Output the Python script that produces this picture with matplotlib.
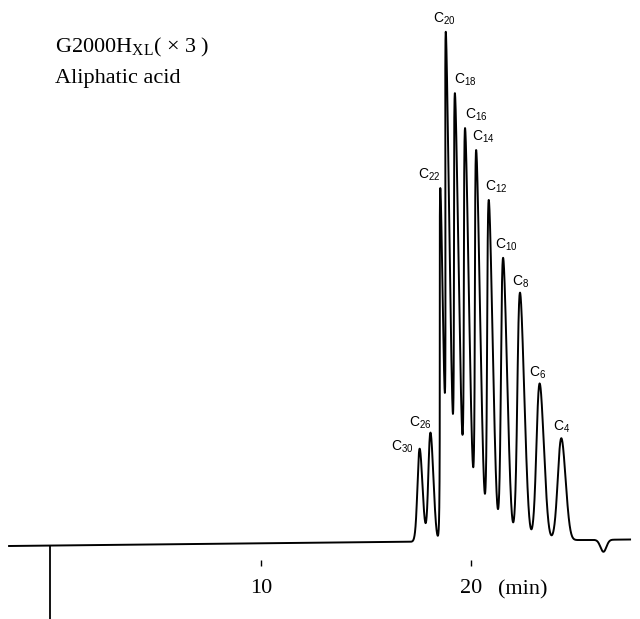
import numpy as np
import matplotlib.pyplot as plt

plt.rcParams["font.family"] = ["Liberation Serif", "DejaVu Serif"]
plt.rcParams["mathtext.fontset"] = "custom"
plt.rcParams["mathtext.rm"] = "Liberation Serif"
plt.rcParams["mathtext.sf"] = "Liberation Sans"

# peaks: carbon number, retention time (min),
# height above baseline and width (sigma, min)
peak_names = ["30", "26", "22", "20", "18", "16", "14", "12", "10", "8", "6", "4"]
peak_times = [17.59, 18.11, 18.67, 18.99, 19.40, 19.87, 20.39, 20.97, 21.63, 22.42, 23.32, 24.33]
peak_heights = [93, 109, 352, 509, 448, 413, 391, 341, 283, 248, 157, 102]
peak_sigmas = [0.119, 0.119, 0.078, 0.093, 0.112, 0.118, 0.120, 0.128, 0.143, 0.162, 0.176, 0.185]

# negative system peak after the sample
dip_time = 26.29
dip_depth = -12
dip_sigma = 0.14

# baseline drift over the run
run_start, run_end = -1.97, 27.56
baseline_start, baseline_end = 0.0, 6.5
injection_time = 0.0

tick_values = [10, 20]
tick_labels = ["10", "20"]

# label offsets (pixels) from each peak top
label_offsets = [(-17, 2), (-10, 10), (-11, 13), (-1, 13), (10, 13), (11, 13),
                 (7, 13), (7, 13), (3, 13), (1, 11), (-2, 11), (0, 11)]

pen_lean = 3.8e-4  # recorder pen arc: min per unit of signal


def baseline(t):
    return baseline_start + (baseline_end - baseline_start) * (t - run_start) / (run_end - run_start)


def signal(t):
    y = baseline(t)
    for t0, h, s in zip(peak_times, peak_heights, peak_sigmas):
        y = y + h * np.exp(-0.5 * ((t - t0) / s) ** 2)
    y = y + dip_depth * np.exp(-0.5 * ((t - dip_time) / dip_sigma) ** 2)
    return y


t = np.linspace(run_start, run_end, 12000)
y = signal(t)
x_drawn = t - pen_lean * y

fig = plt.figure(figsize=(6.4, 6.19), dpi=100)
ax = fig.add_axes([0, 0, 1, 1])
ax.set_xlim(-2.401, 28.03)
ax.set_ylim(-73, 546)

ax.plot(x_drawn, y, color="black", linewidth=1.4)
ax.vlines(injection_time, -73, baseline(injection_time), color="black", linewidth=1.3)

for name, t0, off in zip(peak_names, peak_times, label_offsets):
    top = signal(t0)
    ax.annotate(r"$\mathsf{C}_{\mathsf{%s}}$" % name, xy=(t0 - pen_lean * top, top),
                xytext=off, textcoords="offset pixels", ha="center", va="center",
                fontsize=10)

for side in ["top", "left", "right"]:
    ax.spines[side].set_visible(False)
ax.spines["bottom"].set_position(("data", -17))
ax.spines["bottom"].set_visible(False)
ax.set_yticks([])
ax.set_xticks(tick_values)
ax.set_xticklabels(tick_labels, fontsize=16)
ax.tick_params(axis="x", direction="inout", length=5, width=1, pad=9)
ax.text(22.47, -44, "(min)", fontsize=16, ha="center", va="center")

fig.text(55 / 640, 1 - 52 / 619, r"G2000H$_{\mathrm{XL}}$( $\times$ 3 )", fontsize=16)
fig.text(55 / 640, 1 - 83 / 619, "Aliphatic acid", fontsize=16)

fig.savefig("out.png", dpi=100)
